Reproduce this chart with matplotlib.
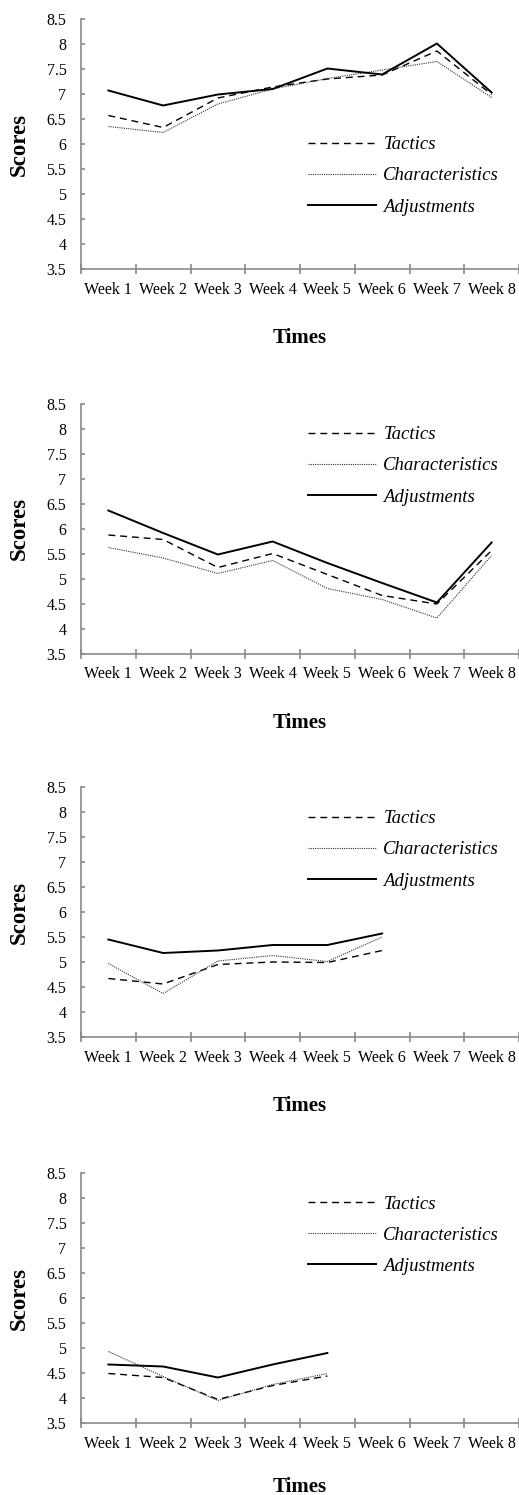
import numpy as np
import matplotlib
matplotlib.use('Agg')
import matplotlib.pyplot as plt

plt.rcParams['font.family'] = ['Liberation Serif', 'DejaVu Serif']

weeks = ['Week 1', 'Week 2', 'Week 3', 'Week 4', 'Week 5', 'Week 6',
         'Week 7', 'Week 8']
series_names = ['Tactics', 'Characteristics', 'Adjustments']

# panel 1
tactics_1 = [6.57, 6.33, 6.92, 7.14, 7.30, 7.38, 7.86, 6.99]
charact_1 = [6.35, 6.23, 6.80, 7.10, 7.31, 7.48, 7.65, 6.93]
adjust_1 = [7.07, 6.77, 6.99, 7.10, 7.51, 7.39, 8.01, 7.03]

# panel 2
tactics_2 = [5.88, 5.79, 5.23, 5.51, 5.09, 4.67, 4.50, 5.57]
charact_2 = [5.63, 5.42, 5.11, 5.37, 4.81, 4.59, 4.22, 5.47]
adjust_2 = [6.37, 5.92, 5.49, 5.75, 5.32, 4.92, 4.53, 5.73]

# panel 3
tactics_3 = [4.67, 4.56, 4.95, 5.00, 4.99, 5.23]
charact_3 = [4.97, 4.37, 5.02, 5.13, 5.01, 5.50]
adjust_3 = [5.45, 5.18, 5.23, 5.34, 5.34, 5.57]

# panel 4
tactics_4 = [4.49, 4.41, 3.97, 4.25, 4.44]
charact_4 = [4.93, 4.43, 3.95, 4.27, 4.49]
adjust_4 = [4.67, 4.63, 4.41, 4.67, 4.90]

panels = [
    (tactics_1, charact_1, adjust_1),
    (tactics_2, charact_2, adjust_2),
    (tactics_3, charact_3, adjust_3),
    (tactics_4, charact_4, adjust_4),
]

# legend placement (axes coords of the top-left corner) per panel
legend_anchor = [(0.5, 0.562), (0.5, 0.942), (0.5, 0.938), (0.5, 0.94)]

W, H = 519, 1495
fig = plt.figure(figsize=(W / 100, H / 100), dpi=100)

axis_gray = '#8a8a8a'
bottoms_px = [269, 654, 1037, 1423]
ax_h = 250

for i, (tac, cha, adj) in enumerate(panels):
    b = bottoms_px[i]
    ax = fig.add_axes([81 / W, (H - b) / H, 438 / W, ax_h / H])
    x = np.arange(len(tac))
    ax.plot(x, tac, color='black', lw=1.0, dashes=(5, 3.5),
            label=series_names[0])
    ax.plot(x, cha, color='#333333', lw=0.8, dashes=(1, 1),
            label=series_names[1])
    ax.plot(x, adj, color='black', lw=1.4, label=series_names[2])

    ax.set_xlim(-0.5, 7.5)
    ax.set_ylim(3.5, 8.5)
    ax.set_yticks(np.arange(3.5, 8.51, 0.5))
    ax.set_yticklabels(['%g' % v for v in np.arange(3.5, 8.51, 0.5)])
    ax.set_xticks(np.arange(8))
    ax.set_xticklabels(weeks)
    ax.set_xticks(np.arange(-0.5, 7.6, 1), minor=True)

    for side in ['top', 'right']:
        ax.spines[side].set_visible(False)
    for side in ['left', 'bottom']:
        ax.spines[side].set_color(axis_gray)
        ax.spines[side].set_linewidth(1.2)

    ax.tick_params(axis='x', which='major', length=0, labelsize=11.5,
                   pad=9)
    ax.tick_params(axis='x', which='minor', direction='inout', length=7,
                   color=axis_gray, width=1.2)
    ax.tick_params(axis='y', direction='in', length=3, color=axis_gray,
                   width=1.2, labelsize=11.5, pad=10.5)

    ax.set_ylabel('Scores', fontsize=16.5, fontweight='bold', labelpad=12)
    # last one sits right at the bottom edge, nudge it up a little
    ax.set_xlabel('Times', fontsize=15, fontweight='bold',
                  labelpad=22 if i < 3 else 18)

    leg = ax.legend(loc='upper left', bbox_to_anchor=legend_anchor[i],
                    frameon=False, prop={'style': 'italic', 'size': 13.5},
                    handlelength=3.65, handletextpad=0.4, labelspacing=0.75,
                    borderaxespad=0)

fig.savefig('out.png', dpi=100)
